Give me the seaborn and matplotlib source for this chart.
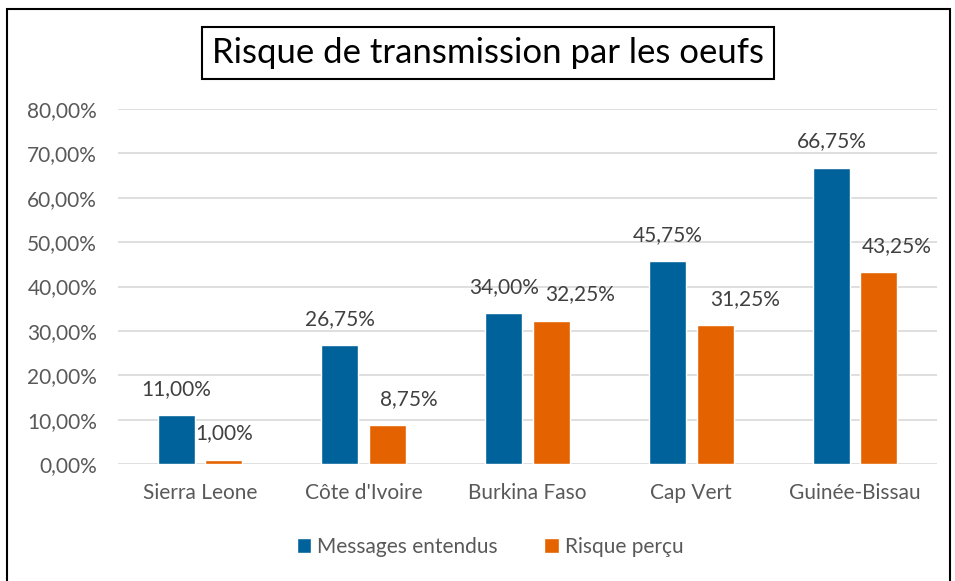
import pandas as pd
import matplotlib.pyplot as plt
import seaborn as sns
from matplotlib.patches import Rectangle

# Data
pays = ["Sierra Leone", "Côte d'Ivoire", "Burkina Faso", "Cap Vert", "Guinée-Bissau"]
messages_entendus = [11.00, 26.75, 34.00, 45.75, 66.75]
risque_percu = [1.00, 8.75, 32.25, 31.25, 43.25]
series = ["Messages entendus", "Risque perçu"]
yticks = [0, 10, 20, 30, 40, 50, 60, 70, 80]

# horizontal nudges of the data labels (pixels), as placed in the original
label_shift = [[0, 0, 0, 0, 0], [0, 21, 29, 30, 18]]

df = pd.DataFrame({
    "Pays": pays * 2,
    "Valeur": messages_entendus + risque_percu,
    "Serie": [series[0]] * len(pays) + [series[1]] * len(pays),
})

sns.set_theme(style="white")
plt.rcParams['font.family'] = ['Lato', 'DejaVu Sans']

grey = '#595959'
colors = ['#00629B', '#E46300']
fs = 15

fig = plt.figure(figsize=(9.55, 5.81), dpi=100)
ax = fig.add_axes([118/955, 1 - 464/581, (937-118)/955, (464-109)/581])

sns.barplot(data=df, x="Pays", y="Valeur", hue="Serie", palette=colors,
            saturation=1, width=0.58, gap=0.22, ax=ax, zorder=3, legend=True)

ax.set_ylim(0, 80)
ax.set_xlim(-0.5, len(pays) - 0.5)
ax.set_yticks(yticks)
ax.set_yticklabels([f"{v:.2f}%".replace('.', ',') for v in yticks])
ax.yaxis.grid(True, color='#d9d9d9', linewidth=1.2, zorder=0)
ax.set_axisbelow(True)
for s in ax.spines.values():
    s.set_visible(False)
ax.tick_params(axis='both', length=0, labelsize=fs, labelcolor=grey)
ax.tick_params(axis='y', pad=15)
ax.tick_params(axis='x', pad=14)
ax.set_xlabel('')
ax.set_ylabel('')

# data labels
for k, cont in enumerate(ax.containers):
    for i, bar in enumerate(cont):
        h = bar.get_height()
        ax.annotate(f"{h:.2f}%".replace('.', ','),
                    (bar.get_x() + bar.get_width() / 2, h),
                    xytext=(label_shift[k][i] * 0.72, 19), textcoords='offset points',
                    ha='center', va='center', fontsize=fs, color='#404040')

# legend
handles, labels = ax.get_legend_handles_labels()
ax.legend_.remove()
fig.legend(handles, labels, loc='center', bbox_to_anchor=(490/955, 1 - 547/581),
           ncol=2, frameon=False, fontsize=fs, labelcolor=grey,
           handlelength=0.7, handleheight=0.7, handletextpad=0.3, columnspacing=2.2)

# title in a box
fig.text(488/955, 1 - 53/581, "Risque de transmission par les oeufs",
         ha='center', va='center', fontsize=25, color='black',
         bbox=dict(boxstyle='square,pad=0.3', facecolor='white',
                   edgecolor='black', linewidth=1.5))

# outer frame
fig.patches.append(Rectangle((7/955, -0.01), (950-7)/955, 1 - 9/581 + 0.01,
                             transform=fig.transFigure, fill=False,
                             edgecolor='black', linewidth=1.5))

fig.savefig('out.png', dpi=100)
plt.close()
